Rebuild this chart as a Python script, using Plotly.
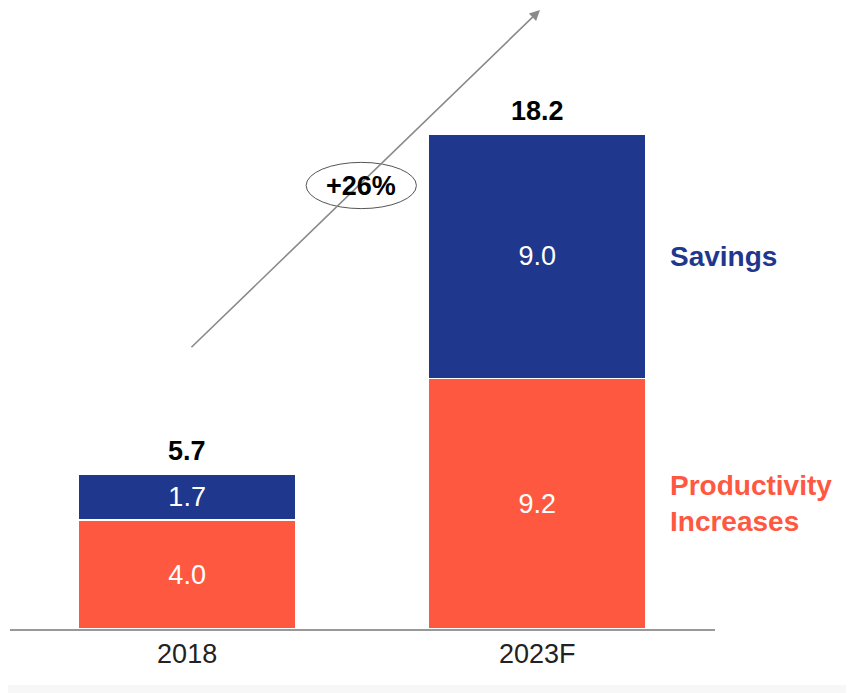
import plotly.graph_objects as go

categories = ["2018", "2023F"]
productivity = [4.0, 9.2]
savings = [1.7, 9.0]
totals = [5.7, 18.2]
growth_label = "+26%"

NAVY = "#1F378C"
RED = "#FF5841"
FONT = "Liberation Sans, Arial, sans-serif"

fig = go.Figure()
fig.add_trace(go.Bar(
    x=categories, y=productivity, name="Productivity Increases",
    marker=dict(color=RED, line=dict(color="white", width=1.5)),
    texttemplate="%{y:.1f}", textposition="inside", insidetextanchor="middle",
    constraintext="none",
    textfont=dict(color="white", size=27, family=FONT), width=0.62,
))
fig.add_trace(go.Bar(
    x=categories, y=savings, name="Savings",
    marker=dict(color=NAVY, line=dict(color="white", width=1.5)),
    texttemplate="%{y:.1f}", textposition="inside", insidetextanchor="middle",
    constraintext="none",
    textfont=dict(color="white", size=27, family=FONT), width=0.62,
))

# totals above bars
for i, t in enumerate(totals):
    fig.add_annotation(x=i, y=t, xref="x", yref="y", text=f"<b>{t:.1f}</b>",
                       showarrow=False, yanchor="bottom", yshift=6,
                       font=dict(color="black", size=27, family=FONT))

# series labels on the right
fig.add_annotation(x=1, y=productivity[1] + savings[1] / 2, xref="x", yref="y",
                   xshift=131, text="<b>Savings</b>", showarrow=False, xanchor="left",
                   font=dict(color=NAVY, size=28, family=FONT))
fig.add_annotation(x=1, y=productivity[1] / 2, xref="x", yref="y",
                   xshift=131, text="<b>Productivity<br>Increases</b>", showarrow=False,
                   xanchor="left", align="left",
                   font=dict(color=RED, size=28, family=FONT))

# growth arrow
fig.add_annotation(x=1.008, y=22.75, ax=0.008, ay=10.3, xref="x", yref="y",
                   axref="x", ayref="y", showarrow=True, arrowhead=2, arrowsize=1.3,
                   arrowwidth=1.6, arrowcolor="#8a8a8a", text="")
fig.add_shape(type="circle", xref="x", yref="y", x0=0.34, x1=0.655,
              y0=15.45, y1=17.15, line=dict(color="#555", width=1), fillcolor="white")
fig.add_annotation(x=0.497, y=16.3, xref="x", yref="y", text=f"<b>{growth_label}</b>",
                   showarrow=False, font=dict(color="black", size=27, family=FONT))

# faint bottom band
fig.add_shape(type="rect", xref="paper", yref="paper", x0=-0.02, x1=1.22,
              y0=-0.104, y1=-0.0905, line=dict(width=0), fillcolor="#f7f7f7", layer="below")

fig.update_layout(
    barmode="stack", showlegend=False, width=854, height=693,
    margin=dict(l=2, r=147, t=2, b=72),
    paper_bgcolor="white", plot_bgcolor="white",
    font=dict(family=FONT),
    xaxis=dict(type="category", range=[-0.506, 1.508], showline=True, linecolor="#999",
               linewidth=2, showgrid=False, ticks="",
               tickfont=dict(size=27, color="#222", family=FONT)),
    yaxis=dict(range=[0, 22.75], visible=False, showgrid=False),
)
fig.write_html("out.html")
